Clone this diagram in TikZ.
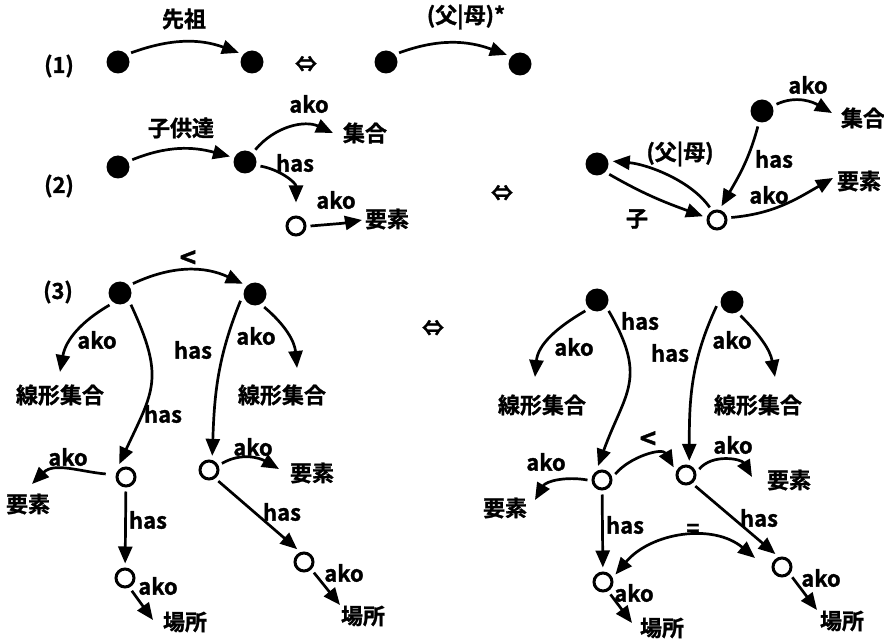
\documentclass[tikz,border=0pt]{standalone}
\usepackage{fontspec}
\setmainfont{Noto Sans CJK JP}[BoldFont={Noto Sans CJK JP Bold}, BoldFeatures={FakeBold=1.2}]
\usetikzlibrary{arrows.meta}

\tikzset{
  x=1pt, y=1pt,
  every node/.style={font=\bfseries\fontsize{22}{25}\selectfont},
  txt/.style={inner sep=0pt},
  bigsym/.style={font=\bfseries\fontsize{28}{30}\selectfont},
  dotnode/.style={circle, fill=black, minimum size=23pt, inner sep=0pt, outer sep=4.5pt},
  ringnode/.style={circle, draw, line width=3pt, fill=white, minimum size=18pt, inner sep=0pt, outer sep=5.5pt},
  link/.style={line width=2.7pt, -{Triangle[length=17pt,width=14pt]}},
  twoway/.style={line width=2.7pt, {Triangle[length=17pt,width=14pt]}-{Triangle[length=17pt,width=14pt]}},
}

\begin{document}
\begin{tikzpicture}
\useasboundingbox (0,0) rectangle (884,-639);

% ---------- (1) ----------
\node[txt] (n1) at (59,-66) {(1)};
\node[dotnode] (a1) at (118,-62) {};
\node[dotnode] (b1) at (252,-62) {};
\node[txt] (t1) at (184,-19) {先祖};
\node[txt] (eq1) at (306,-64) {⇔};
\node[dotnode] (c1) at (386,-62) {};
\node[dotnode] (d1) at (520,-64) {};
\node[txt] (t2) at (466,-17) {(父|母)*};
\draw[link] (a1.35) to[out=20,in=160] (b1.145);
\draw[link] (c1.35) to[out=20,in=160] (d1.145);

% ---------- (2) left ----------
\node[txt] (n2) at (59,-186) {(2)};
\node[dotnode] (a2) at (118,-167) {};
\node[dotnode] (b2) at (245,-162) {};
\node[txt] (t3) at (181,-128) {子供達};
\draw[link] (a2.27) to[out=22,in=165] (b2.160);
\node[txt] (t4) at (309,-104) {ako};
\node[txt] (s1) at (365,-133) {集合};
\draw[link] (b2.50) to[out=50,in=155] ([shift={(-32,0)}]s1.center);
\node[txt] (t5) at (295,-163) {has};
\node[ringnode] (o2) at (296,-226) {};
\draw[link] (b2.-15) to[out=-10,in=90] ([yshift=9pt]o2.north);
\node[txt] (t6) at (336,-200) {ako};
\node[txt] (e1) at (387,-219) {要素};
\draw[link] (o2.0) to[out=5,in=190] ([shift={(-25,-1)}]e1.center);

% ---------- (2) right ----------
\node[txt] (eq2) at (502,-193) {⇔};
\node[dotnode] (p) at (597,-164) {};
\node[ringnode] (q) at (717,-220) {};
\node[dotnode] (r) at (762,-111) {};
\node[txt] (t7) at (808,-85) {ako};
\node[txt] (s2) at (863,-118) {集合};
\draw[link] (r.25) to[out=25,in=150] ([shift={(-31,5)}]s2.center);
\node[txt] (t8) at (774,-159) {has};
\draw[link] (r.-105) to[out=-105,in=60] (q.72);
\node[txt] (t9) at (769,-195) {ako};
\node[txt] (e2) at (859,-181) {要素};
\draw[link] (q.10) to[out=5,in=210] ([shift={(-26,3)}]e2.center);
\node[txt] (t10) at (680,-154) {(父|母)};
\draw[link] (q.120) to[out=125,in=-5,looseness=0.8] (p.10);
\node[txt] (t11) at (637,-219) {子};
\draw[link] (p.-40) to[out=-30,in=160] (q.165);

% ---------- (3) left ----------
\node[txt] (n3) at (58,-292) {(3)};
\node[dotnode] (e) at (120,-293) {};
\node[dotnode] (f) at (255,-294) {};
\node[txt, bigsym] (t12) at (188,-259) {<};
\draw[link] (e.36) to[out=25,in=155] (f.140);
\node[txt] (t13) at (97,-340) {ako};
\node[txt] (ls1) at (60,-395) {線形集合};
\draw[link] (e.-131) to[out=-150,in=80] ([yshift=23pt]ls1.center);
\node[txt] (t14) at (163,-414) {has};
\node[ringnode] (o3a) at (126,-477) {};
\draw[link] (e.-47) to[out=-65,in=65,looseness=1.3] (o3a.118);
\node[txt] (t15) at (193,-350) {has};
\node[ringnode] (o3b) at (209,-470) {};
\draw[link] (f.-155) to[out=-112,in=88] (o3b.77);
\node[txt] (t16) at (256,-336) {ako};
\node[txt] (ls2) at (282,-395) {線形集合};
\draw[link] (f.-55) to[out=-40,in=95] ([shift={(15,27)}]ls2.center);
\node[txt] (t17) at (68,-457) {ako};
\node[txt] (e4) at (28,-504) {要素};
\draw[link, shorten <=6pt] (o3a.170) to[out=175,in=45] ([shift={(4,20)}]e4.center);
\node[txt] (t18) at (148,-520) {has};
\node[ringnode] (o3c) at (125,-578) {};
\draw[link] (o3a) -- (o3c);
\node[txt] (t19) at (158,-586) {ako};
\node[txt] (b3) at (185,-622) {場所};
\draw[link] (o3c.-62) -- ([shift={(-32,2)}]b3.center);
\node[txt] (t20) at (253,-447) {ako};
\node[txt] (e3) at (312,-473) {要素};
\draw[link] (o3b.27) to[out=30,in=150] ([shift={(-33,4)}]e3.center);
\node[txt] (t21) at (282,-512) {has};
\node[ringnode] (o3d) at (304,-562) {};
\draw[link] (o3b.-50) -- (o3d.118);
\node[txt] (t22) at (344,-573) {ako};
\node[txt] (b4) at (363,-616) {場所};
\draw[link] (o3d.-47) -- ([shift={(-23,11)}]b4.center);

% ---------- (3) right ----------
\node[txt] (eq3) at (433,-328) {⇔};
\node[dotnode] (g) at (597,-300) {};
\node[dotnode] (h) at (732,-302) {};
\node[txt] (t23) at (640,-321) {has};
\node[txt] (t24) at (574,-347) {ako};
\node[txt] (ls3) at (542,-405) {線形集合};
\draw[link] (g.-137) to[out=-150,in=85] ([shift={(-7,28)}]ls3.center);
\node[ringnode] (o3e) at (602,-480) {};
\draw[link] (g.-43) to[out=-60,in=70,looseness=1.3] (o3e.106);
\node[txt] (t25) at (670,-353) {has};
\node[ringnode] (o3f) at (686,-475) {};
\draw[link] (h.-165) to[out=-115,in=90] (o3f.77);
\node[txt] (t26) at (732,-340) {ako};
\node[txt] (ls4) at (758,-405) {線形集合};
\draw[link] (h.-58) to[out=-45,in=100] ([shift={(17,28)}]ls4.center);
\node[txt, bigsym] (t27) at (648,-440) {<};
\draw[link] (o3e.24) to[out=50,in=120] (o3f.148);
\node[txt] (t28) at (733,-445) {ako};
\node[txt] (e5) at (789,-480) {要素};
\draw[link] (o3f.24) to[out=50,in=120] ([shift={(-37,3)}]e5.center);
\node[txt] (t29) at (546,-462) {ako};
\node[txt] (e6) at (505,-508) {要素};
\draw[link] (o3e.180) to[out=170,in=60] ([shift={(30,8)}]e6.center);
\node[txt] (t30) at (625,-525) {has};
\node[ringnode] (o3g) at (603,-582) {};
\draw[link] (o3e) -- (o3g);
\node[txt] (t31) at (634,-593) {ako};
\node[txt] (b5) at (662,-628) {場所};
\draw[link] (o3g.-59) -- ([shift={(-30,5)}]b5.center);
\node[txt] (t32) at (759,-518) {has};
\node[ringnode] (o3h) at (782,-567) {};
\draw[link] (o3f.-50) -- (o3h.117);
\node[txt] (t33) at (693,-530) {=};
\draw[twoway] (o3g.31) to[out=50,in=140] ([shift={(-27,9)}]o3h.center);
\node[txt] (t34) at (821,-578) {ako};
\node[txt] (b6) at (842,-621) {場所};
\draw[link] (o3h.-45) -- ([shift={(-25,11)}]b6.center);
\end{tikzpicture}
\end{document}
